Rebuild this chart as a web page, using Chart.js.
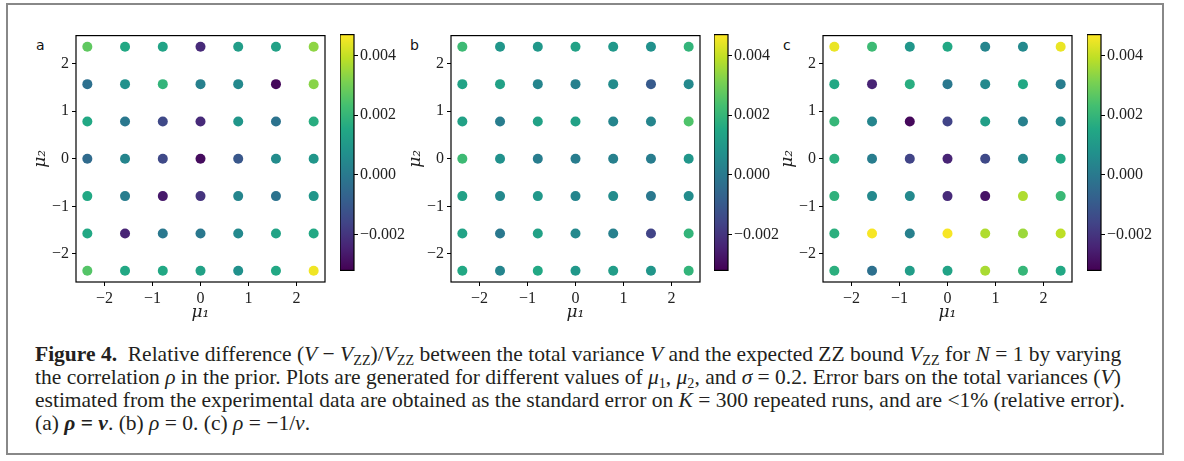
<!DOCTYPE html>
<html>
<head>
<meta charset="utf-8">
<script src="https://cdn.jsdelivr.net/npm/chart.js@4.4.0/dist/chart.umd.min.js"></script>
<style>
  html, body { margin: 0; padding: 0; background: #fff; }
  #fig { position: relative; width: 1184px; height: 461px; overflow: hidden; }
  #frame { position: absolute; left: 6px; top: 3px; width: 1154px; height: 448px; border: 2px solid #888; }
  canvas { position: absolute; }
  .lbl { position: absolute; font: 14px "DejaVu Sans", sans-serif; color: #111; }
  #caption { position: absolute; left: 35px; top: 343px; font: 21.5px "Liberation Serif", serif;
             line-height: 23px; white-space: nowrap; color: #231f20; }
  #caption sub { font-size: 66%; line-height: 0; vertical-align: -0.25em; }
</style>
</head>
<body>
<div id="fig">
  <div id="frame"></div>

  <div class="lbl" style="left:36px;top:37px">a</div>
  <div class="lbl" style="left:410px;top:37px">b</div>
  <div class="lbl" style="left:783px;top:37px">c</div>

  <canvas id="scA" width="300" height="303" style="left:30px;top:23px"></canvas>
  <canvas id="cbA" width="69" height="259" style="left:340px;top:23px"></canvas>
  <canvas id="scB" width="300" height="303" style="left:405px;top:23px"></canvas>
  <canvas id="cbB" width="69" height="259" style="left:714px;top:23px"></canvas>
  <canvas id="scC" width="300" height="303" style="left:777px;top:23px"></canvas>
  <canvas id="cbC" width="69" height="259" style="left:1087px;top:23px"></canvas>

  <div id="caption">
    <b>Figure 4.</b>&nbsp; Relative difference (<i>V</i> − <i>V</i><sub>ZZ</sub>)/<i>V</i><sub>ZZ</sub> between the total variance <i>V</i> and the expected ZZ bound <i>V</i><sub>ZZ</sub> for <i>N</i> = 1 by varying<br>
    the correlation <i>ρ</i> in the prior. Plots are generated for different values of <i>μ</i><sub>1</sub>, <i>μ</i><sub>2</sub>, and <i>σ</i> = 0.2. Error bars on the total variances (<i>V</i>)<br>
    estimated from the experimental data are obtained as the standard error on <i>K</i> = 300 repeated runs, and are &lt;1% (relative error).<br>
    (a) <b><i>ρ</i> = <i>ν</i></b>. (b) <i>ρ</i> = 0. (c) <i>ρ</i> = −1/<i>ν</i>.
  </div>
</div>

<script>
// grid of means (columns = mu1, rows = mu2 from top to bottom)
const mu1 = [-2.356, -1.571, -0.785, 0, 0.785, 1.571, 2.356];
const mu2 = [2.356, 1.571, 0.785, 0, -0.785, -1.571, -2.356];
const axisTicks = [-2, -1, 0, 1, 2];
const cbarTicks = [-0.002, 0, 0.002, 0.004];
const cbarMin = -0.0032;
const cbarMax = 0.0047;

// relative difference, panel (a) rho = nu
const diffA = [
  [ 2.73e-3,  1.54e-3,  1.38e-3, -2.25e-3,  1.15e-3,  1.30e-3,  3.36e-3],
  [-0.28e-3,  0.75e-3,  1.94e-3,  0.20e-3,  0.51e-3, -3.04e-3,  3.28e-3],
  [ 1.54e-3, -0.04e-3, -1.46e-3, -2.25e-3,  0.91e-3, -0.20e-3,  1.70e-3],
  [-0.44e-3,  0.36e-3, -1.46e-3, -2.96e-3, -1.07e-3,  0.59e-3,  0.91e-3],
  [ 1.54e-3,  0.12e-3, -2.65e-3, -2.02e-3,  0.36e-3, -0.20e-3,  0.91e-3],
  [ 1.54e-3, -2.41e-3, -0.04e-3, -0.04e-3,  0.51e-3,  1.38e-3,  1.54e-3],
  [ 2.57e-3,  1.54e-3,  1.54e-3,  1.30e-3,  0.75e-3,  1.54e-3,  4.54e-3]
];
// panel (b) rho = 0
const diffB = [
  [ 2.17e-3,  0.91e-3,  0.99e-3,  1.30e-3,  0.99e-3,  0.75e-3,  1.94e-3],
  [ 1.38e-3,  1.30e-3,  0.36e-3,  0.20e-3,  0.59e-3, -0.99e-3,  0.51e-3],
  [ 1.30e-3,  0.12e-3,  1.30e-3,  1.30e-3,  0.36e-3,  0.36e-3,  2.49e-3],
  [ 2.17e-3,  0.75e-3,  0.12e-3,  0.12e-3,  0.20e-3,  0.12e-3,  0.91e-3],
  [ 1.30e-3,  0.51e-3,  0.99e-3,  0.36e-3,  0.59e-3, -0.04e-3,  0.59e-3],
  [ 1.38e-3, -0.04e-3,  1.30e-3,  0.51e-3,  0.20e-3, -1.62e-3,  1.94e-3],
  [ 1.54e-3,  0.36e-3,  1.54e-3,  0.99e-3,  1.15e-3,  0.91e-3,  1.94e-3]
];
// panel (c) rho = -1/nu
const diffC = [
  [ 4.46e-3,  2.17e-3,  0.91e-3,  1.54e-3,  0.36e-3,  0.51e-3,  4.46e-3],
  [ 1.54e-3, -2.41e-3,  1.70e-3, -0.04e-3,  0.51e-3,  1.54e-3,  0.12e-3],
  [ 2.01e-3,  0.36e-3, -3.04e-3, -1.62e-3,  1.22e-3,  0.20e-3,  0.51e-3],
  [ 1.78e-3,  0.12e-3, -1.62e-3, -2.41e-3, -1.46e-3,  0.43e-3,  1.54e-3],
  [ 1.86e-3,  0.51e-3,  0.51e-3, -2.25e-3, -2.80e-3,  3.75e-3,  2.09e-3],
  [ 1.78e-3,  4.62e-3,  0.20e-3,  4.62e-3,  3.75e-3,  3.52e-3,  3.91e-3],
  [ 1.78e-3, -0.28e-3,  1.15e-3,  1.38e-3,  3.67e-3,  2.01e-3,  1.54e-3]
];

const VIRIDIS = ['#440154', '#482475', '#414487', '#355f8d', '#2a788e', '#21918c',
                 '#22a884', '#44bf70', '#7ad151', '#bddf26', '#fde725'];

function hexRgb(h) {
  return [parseInt(h.slice(1, 3), 16), parseInt(h.slice(3, 5), 16), parseInt(h.slice(5, 7), 16)];
}

function viridis(v) {
  let t = (v - cbarMin) / (cbarMax - cbarMin);
  t = Math.max(0, Math.min(1, t));
  const p = t * 10;
  const i = Math.min(9, Math.floor(p));
  const f = p - i;
  const a = hexRgb(VIRIDIS[i]), b = hexRgb(VIRIDIS[i + 1]);
  const c = a.map((x, k) => Math.round(x + (b[k] - x) * f));
  return `rgb(${c[0]},${c[1]},${c[2]})`;
}

const minus = (s) => s.replace('-', '\u2212');
const tickFont = { family: '"Liberation Serif", serif', size: 16 };
const ink = '#222';

// full rectangle around plot area (matplotlib spines)
const boxPlugin = {
  id: 'boxPlugin',
  afterDraw(chart) {
    const { ctx, chartArea: a } = chart;
    ctx.save();
    ctx.strokeStyle = '#000';
    ctx.lineWidth = 1.2;
    ctx.strokeRect(a.left, a.top, a.right - a.left, a.bottom - a.top);
    ctx.restore();
  }
};

function axisOpts(titleText, fitFn) {
  return {
    type: 'linear',
    min: -2.592,
    max: 2.592,
    afterBuildTicks: (s) => { s.ticks = axisTicks.map((v) => ({ value: v })); },
    afterFit: fitFn,
    grid: { drawOnChartArea: false, drawTicks: true, tickLength: 4, tickColor: '#000', tickWidth: 1 },
    border: { display: false },
    ticks: { font: tickFont, color: ink, padding: 3, maxRotation: 0, autoSkip: false,
             callback: (v) => minus(String(v)) },
    title: { display: true, text: titleText, color: ink,
             font: { family: '"DejaVu Serif", serif', size: 17, style: 'italic' },
             padding: { top: 0, bottom: 3 } }
  };
}

function makePanel(id, values) {
  const pts = [];
  const cols = [];
  mu2.forEach((y, r) => mu1.forEach((x, c) => {
    pts.push({ x, y });
    cols.push(viridis(values[r][c]));
  }));
  new Chart(document.getElementById(id), {
    type: 'scatter',
    data: {
      datasets: [{
        data: pts,
        pointBackgroundColor: cols,
        pointBorderWidth: 0,
        pointRadius: 5,
        pointHoverRadius: 5
      }]
    },
    options: {
      responsive: false,
      animation: false,
      events: [],
      layout: { padding: { top: 10, right: 5, left: 0, bottom: 0 } },
      plugins: { legend: { display: false }, tooltip: { enabled: false } },
      scales: {
        x: axisOpts('μ₁', (s) => { s.height = 44; }),
        y: axisOpts('μ₂', (s) => { s.width = 46; })
      }
    },
    plugins: [boxPlugin]
  });
}

function makeColorbar(id) {
  new Chart(document.getElementById(id), {
    type: 'bar',
    data: {
      labels: [''],
      datasets: [{
        data: [[cbarMin, cbarMax]],
        backgroundColor: (c) => {
          const a = c.chart.chartArea;
          if (!a) return '#21918c';
          const g = c.chart.ctx.createLinearGradient(0, a.bottom, 0, a.top);
          VIRIDIS.forEach((h, i) => g.addColorStop(i / 10, h));
          return g;
        },
        borderWidth: 0,
        barPercentage: 1,
        categoryPercentage: 1
      }]
    },
    options: {
      responsive: false,
      animation: false,
      events: [],
      layout: { padding: { top: 10, right: 0, left: 0, bottom: 0 } },
      plugins: { legend: { display: false }, tooltip: { enabled: false } },
      scales: {
        x: { display: false },
        y: {
          position: 'right',
          min: cbarMin,
          max: cbarMax,
          afterBuildTicks: (s) => { s.ticks = cbarTicks.map((v) => ({ value: v })); },
          afterFit: (s) => { s.width = 55; },
          grid: { drawOnChartArea: false, drawTicks: true, tickLength: 4, tickColor: '#000' },
          border: { display: false },
          ticks: { font: tickFont, color: ink, padding: 2,
                   callback: (v) => minus(Number(v).toFixed(3)) }
        }
      }
    },
    plugins: [boxPlugin]
  });
}

makePanel('scA', diffA);
makePanel('scB', diffB);
makePanel('scC', diffC);
makeColorbar('cbA');
makeColorbar('cbB');
makeColorbar('cbC');
</script>
</body>
</html>
